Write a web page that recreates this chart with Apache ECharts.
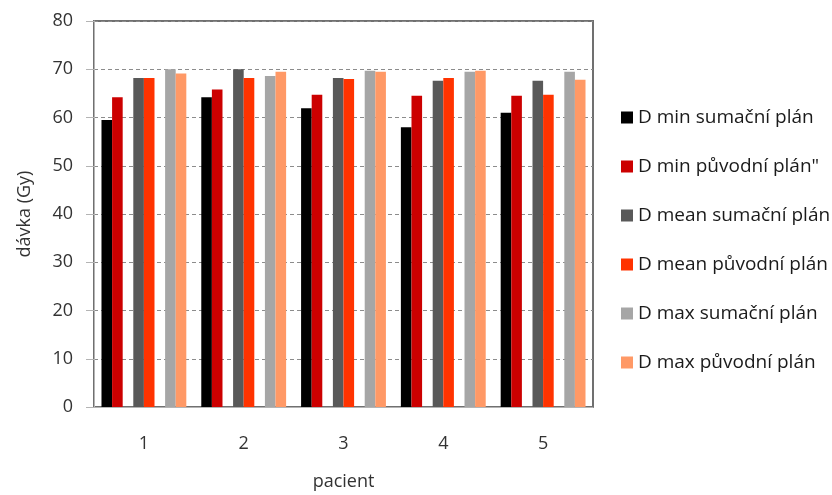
<!DOCTYPE html>
<html>
<head>
<meta charset="utf-8">
<script src="https://cdn.jsdelivr.net/npm/echarts@6/dist/echarts.min.js"></script>
<style>html,body{margin:0;padding:0;background:#fff}#c{width:832px;height:495px}</style>
</head>
<body>
<div id="c"></div>
<script>
var categories = ['1', '2', '3', '4', '5'];
var seriesNames = ['D min sumační plán', 'D min původní plán"', 'D mean sumační plán', 'D mean původní plán', 'D max sumační plán', 'D max původní plán'];
var dMinSum  = [59.5, 64.2, 61.9, 58.0, 61.0];
var dMinOrig = [64.2, 65.8, 64.7, 64.5, 64.5];
var dMeanSum = [68.2, 70.0, 68.2, 67.6, 67.6];
var dMeanOrig= [68.2, 68.2, 68.0, 68.2, 64.7];
var dMaxSum  = [70.0, 68.6, 69.7, 69.5, 69.5];
var dMaxOrig = [69.1, 69.5, 69.5, 69.7, 67.8];
var colors = ['#000000', '#cc0000', '#595959', '#ff3300', '#a6a6a6', '#ff9966'];
var font = 'Open Sans';

var data = [dMinSum, dMinOrig, dMeanSum, dMeanOrig, dMaxSum, dMaxOrig];
var series = [];
data.forEach(function (d, i) {
  series.push({
    name: seriesNames[i], type: 'bar', data: d,
    barGap: '0%', barCategoryGap: '15%',
    itemStyle: { color: colors[i] }
  });
  if (i === 1 || i === 3) {
    series.push({ name: 'spacer' + i, type: 'bar', data: [null, null, null, null, null],
      barGap: '0%', barCategoryGap: '15%', silent: true });
  }
});

var chart = echarts.init(document.getElementById('c'));
chart.setOption({
  animation: false,
  grid: { left: 94, right: 239, top: 21, bottom: 88, show: true, borderColor: '#707070', borderWidth: 2,
          outerBoundsMode: 'none', containLabel: false },
  legend: {
    data: seriesNames.map(function (n, i) { return { name: n, itemStyle: { color: colors[i] } }; }),
    orient: 'vertical', left: 621, top: 108, padding: 0, itemWidth: 12, itemHeight: 12, itemGap: 30,
    icon: 'rect',
    textStyle: { fontFamily: font, fontSize: 19, color: '#1a1a1a', padding: [0, 0, 0, 0] }
  },
  xAxis: {
    type: 'category', data: categories,
    name: 'pacient', nameLocation: 'middle', nameGap: 66,
    nameTextStyle: { fontFamily: font, fontSize: 18, color: '#333' },
    axisLine: { lineStyle: { color: '#b4b4b4', width: 1 } },
    axisTick: { show: false },
    axisLabel: { margin: 28, fontFamily: font, fontSize: 18, color: '#333' }
  },
  yAxis: {
    type: 'value', min: 0, max: 80, interval: 10,
    name: 'dávka (Gy)', nameLocation: 'middle', nameGap: 60,
    nameTextStyle: { fontFamily: font, fontSize: 18, color: '#333' },
    axisLine: { show: true, lineStyle: { color: '#b4b4b4', width: 1 } },
    axisTick: { show: true, inside: false, length: 8, lineStyle: { color: '#b4b4b4' } },
    axisLabel: { margin: 21, fontFamily: font, fontSize: 18, color: '#333' },
    splitLine: { show: true, lineStyle: { color: '#8c8c8c', type: [4, 3], width: 1 } }
  },
  series: series
});
</script>
</body>
</html>
